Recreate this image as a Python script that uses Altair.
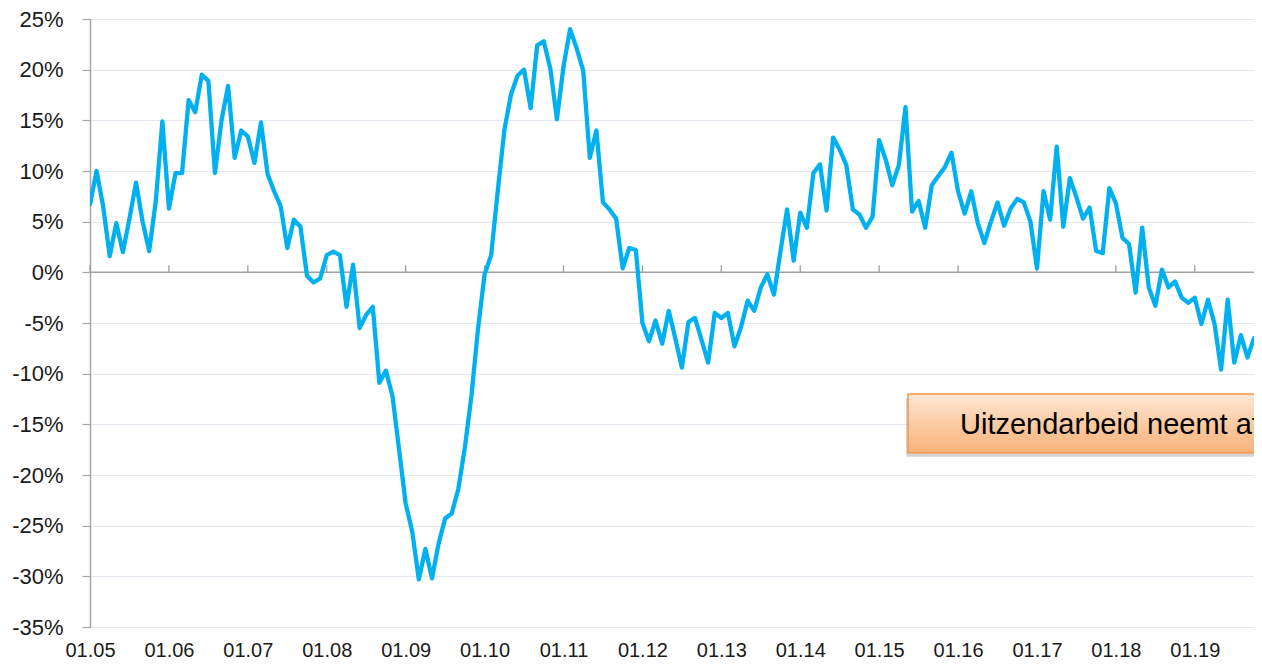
import altair as alt
import pandas as pd

# Monthly year-on-year change (%), Jan 2005 .. Oct 2019
values = [
    6.7, 10.0, 6.5, 1.6, 4.85, 2.0, 5.3, 8.85, 5.0, 2.1, 7.0, 14.9,
    6.3, 9.8, 9.8, 17.0, 15.8, 19.5, 18.9, 9.8, 15.0, 18.4, 11.3, 14.0,
    13.4, 10.8, 14.8, 9.7, 8.0, 6.5, 2.4, 5.2, 4.5, -0.35, -1.0, -0.6,
    1.7, 2.05, 1.7, -3.4, 0.75, -5.5, -4.2, -3.4, -10.9, -9.7, -12.2, -17.5,
    -22.8, -25.6, -30.3, -27.3, -30.2, -26.8, -24.3, -23.8, -21.4, -17.3, -12.2, -5.6,
    -0.2, 1.7, 8.0, 14.0, 17.5, 19.4, 20.0, 16.2, 22.4, 22.8, 20.1, 15.1,
    20.3, 24.0, 22.1, 19.9, 11.3, 14.0, 6.9, 6.2, 5.3, 0.4, 2.4, 2.2,
    -5.0, -6.8, -4.75, -7.05, -3.8, -6.5, -9.4, -4.9, -4.5, -6.7, -8.9, -4.0,
    -4.5, -4.0, -7.3, -5.4, -2.8, -3.8, -1.5, -0.2, -2.2, 2.1, 6.2, 1.15,
    5.9, 4.4, 9.8, 10.65, 6.1, 13.3, 12.1, 10.6, 6.2, 5.7, 4.4, 5.5,
    13.05, 11.1, 8.6, 10.6, 16.3, 6.0, 7.05, 4.4, 8.6, 9.5, 10.4, 11.8,
    8.0, 5.8, 8.0, 4.85, 2.9, 5.0, 6.9, 4.6, 6.3, 7.25, 6.9, 5.0,
    0.4, 8.0, 5.2, 12.4, 4.5, 9.3, 7.4, 5.3, 6.4, 2.1, 1.9, 8.3,
    6.8, 3.4, 2.8, -2.0, 4.4, -1.5, -3.3, 0.27, -1.5, -0.9, -2.5, -3.0,
    -2.5, -5.1, -2.7, -5.1, -9.6, -2.7, -8.9, -6.2, -8.4, -6.5,
]
months = list(range(len(values)))

tick_labels = ["01.05", "01.06", "01.07", "01.08", "01.09", "01.10", "01.11",
               "01.12", "01.13", "01.14", "01.15", "01.16", "01.17", "01.18", "01.19"]
year_ticks = [12 * k for k in range(len(tick_labels))]
y_ticks = [-35, -30, -25, -20, -15, -10, -5, 0, 5, 10, 15, 20, 25]

annotation_text = "Uitzendarbeid neemt af"

df = pd.DataFrame({"m": months, "v": values})
ticks_df = pd.DataFrame({"m": year_ticks})
ann_df = pd.DataFrame({"x": [124.4], "x2": [185.0], "y": [-12.0], "y2": [-17.8],
                       "tx": [132.3], "ty": [-15.05], "label": [annotation_text]})

FONT = "Liberation Sans"
label_expr = "[" + ",".join(f"'{t}'" for t in tick_labels) + "][round(datum.value/12)]"

xscale = alt.Scale(domain=[0, 177], nice=False, zero=False)
yscale = alt.Scale(domain=[-35, 25], nice=False, zero=False)

xaxis = alt.Axis(values=year_ticks, labelExpr=label_expr, title=None, grid=False,
                 domain=False, ticks=False, labelFont=FONT, labelFontSize=20,
                 labelColor="#1a1a1a", labelPadding=13, labelFlush=False, labelOverlap=False)
yaxis = alt.Axis(values=y_ticks, labelExpr="datum.value + '%'", title=None, grid=True,
                 gridColor="#e1e8f2", gridWidth=1.2, domainColor="#a6a6a6", domainWidth=1.5,
                 tickColor="#a6a6a6", tickSize=8, tickWidth=1.2, labelFont=FONT,
                 labelFontSize=22, labelColor="#1a1a1a", labelPadding=19)

base_x = alt.X("m:Q", scale=xscale, axis=xaxis)
base_y = alt.Y("v:Q", scale=yscale, axis=yaxis)

zero_rule = alt.Chart(df).mark_rule(color="#a0a0a0", strokeWidth=1.5).encode(
    y=alt.Y("z:Q", scale=yscale, axis=yaxis)
).transform_calculate(z="0").transform_filter("datum.m == 0")

year_tick_marks = alt.Chart(ticks_df).mark_rule(color="#a0a0a0", strokeWidth=1.3).encode(
    x=alt.X("m:Q", scale=xscale, axis=xaxis),
    y=alt.Y("z0:Q", scale=yscale, axis=yaxis),
    y2="z1:Q",
).transform_calculate(z0="0", z1="0.7")

line = alt.Chart(df).mark_line(color="#00b0f0", strokeWidth=4.3, clip=True,
                               strokeJoin="round", strokeCap="round").encode(
    x=base_x, y=base_y
)

shadow = alt.Chart(ann_df).mark_rect(color="#7f7f7f", opacity=0.35, clip=True,
                                     yOffset=4, y2Offset=4, xOffset=-2).encode(
    x=alt.X("x:Q", scale=xscale, axis=xaxis), x2="x2:Q",
    y=alt.Y("y:Q", scale=yscale, axis=yaxis), y2="y2:Q",
)

box = alt.Chart(ann_df).mark_rect(
    clip=True,
    stroke="#f79646", strokeWidth=1.5,
    fill=alt.Gradient(gradient="linear", x1=0, x2=0, y1=0, y2=1,
                      stops=[alt.GradientStop(color="#fde7d6", offset=0),
                             alt.GradientStop(color="#fbc9a0", offset=0.55),
                             alt.GradientStop(color="#f9b27a", offset=1)]),
).encode(
    x=alt.X("x:Q", scale=xscale, axis=xaxis), x2="x2:Q",
    y=alt.Y("y:Q", scale=yscale, axis=yaxis), y2="y2:Q",
)

text = alt.Chart(ann_df).mark_text(align="left", baseline="middle", font=FONT,
                                   fontSize=29, color="#000000", clip=True).encode(
    x=alt.X("tx:Q", scale=xscale, axis=xaxis),
    y=alt.Y("ty:Q", scale=yscale, axis=yaxis),
    text="label:N",
)

chart = alt.layer(zero_rule, year_tick_marks, line, shadow, box, text).properties(
    width=1164, height=608,
    autosize=alt.AutoSizeParams(type="none"),
    padding={"left": 82, "top": 11, "right": 0, "bottom": 32},
    background="white",
).configure_view(stroke=None)

chart.save("out.html", embed_options={"renderer": "svg", "actions": False})
